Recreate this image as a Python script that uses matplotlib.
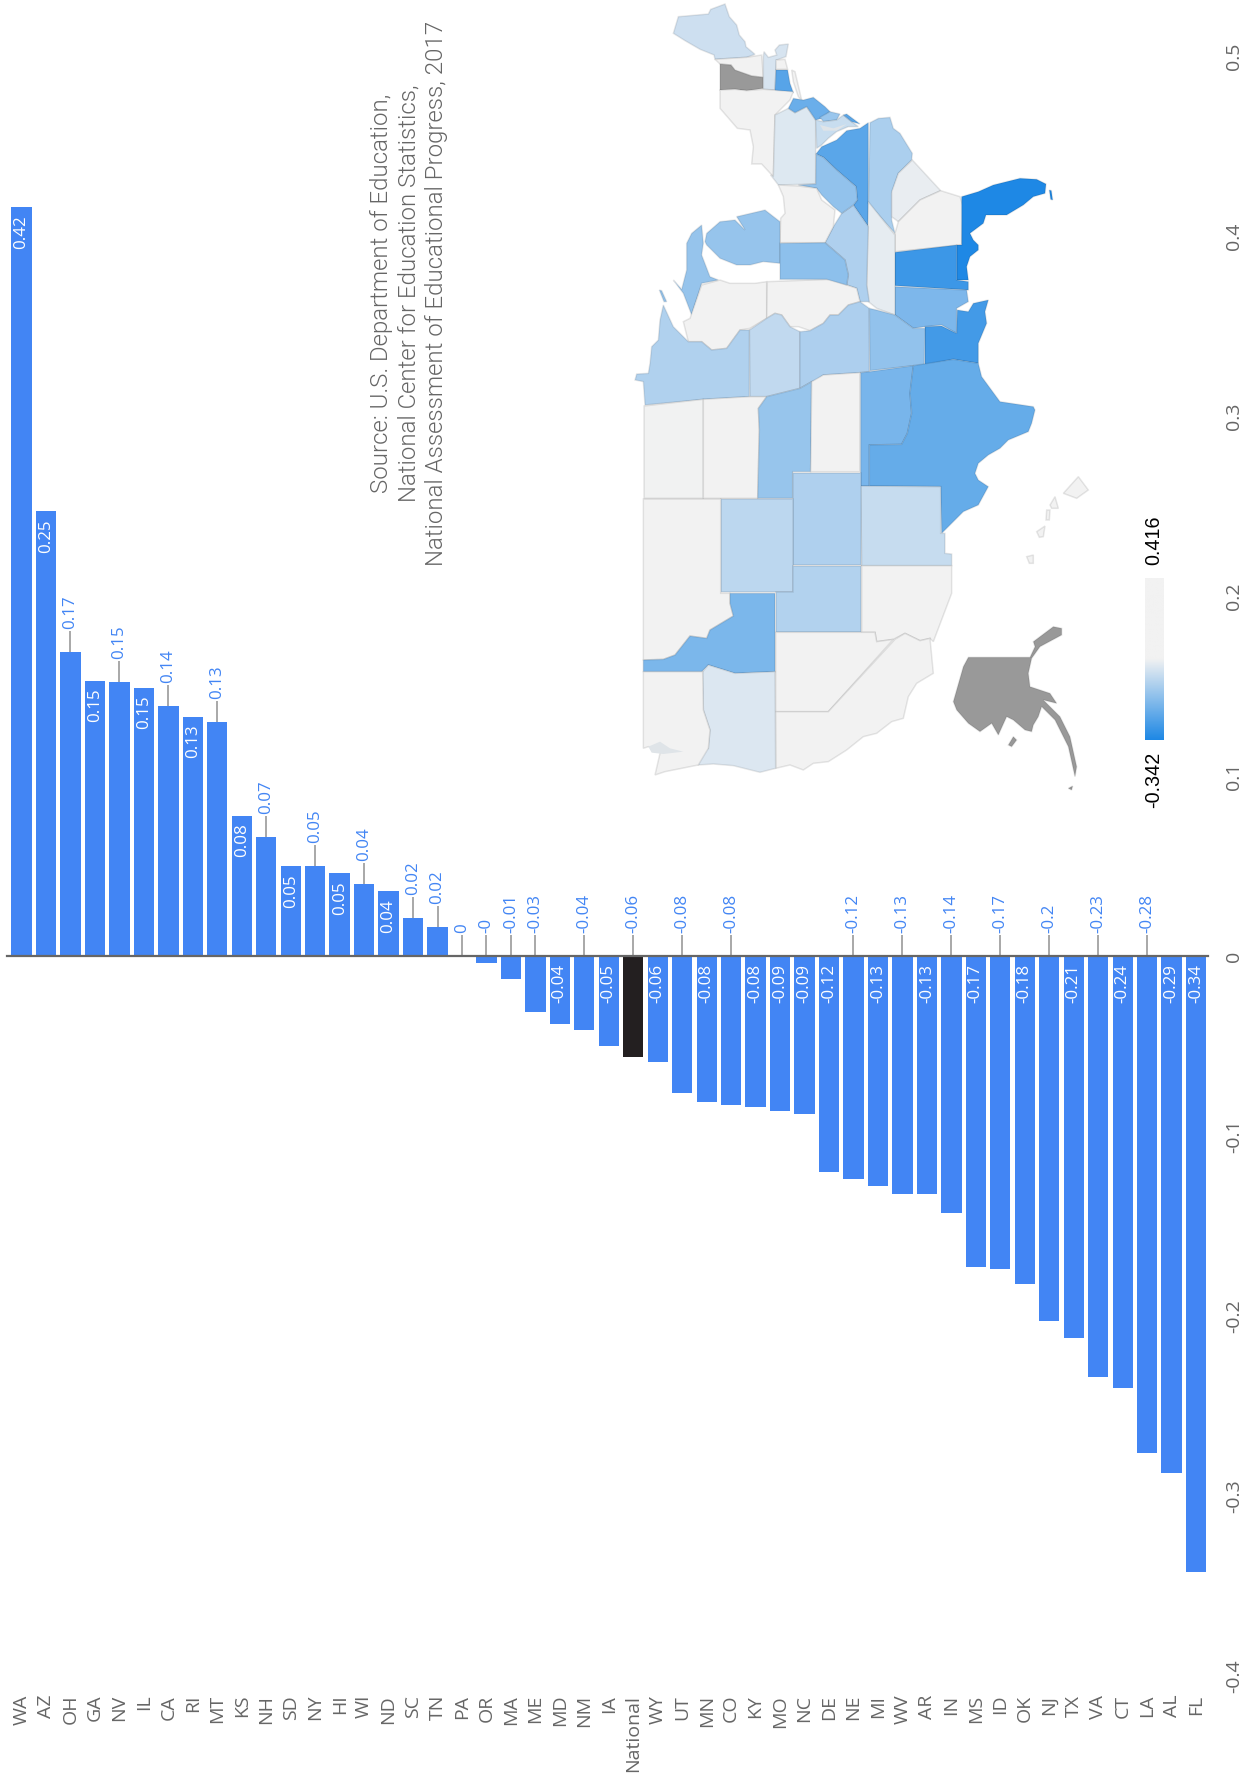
import numpy as np
import matplotlib
matplotlib.use("Agg")
import matplotlib.pyplot as plt
from matplotlib.colors import LinearSegmentedColormap, Normalize
from matplotlib.patches import Polygon

W, H = 1246, 1778

categorias = ["WA", "AZ", "OH", "GA", "NV", "IL", "CA", "RI", "MT", "KS", "NH", "SD", "NY", "HI", "WI", "ND", "SC",
              "TN", "PA", "OR", "MA", "ME", "MD", "NM", "IA", "National", "WY", "UT", "MN", "CO", "KY", "MO", "NC",
              "DE", "NE", "MI", "WV", "AR", "IN", "MS", "ID", "OK", "NJ", "TX", "VA", "CT", "LA", "AL", "FL"]
valores = [0.416, 0.247, 0.169, 0.153, 0.152, 0.149, 0.139, 0.133, 0.130, 0.078, 0.066, 0.050, 0.050, 0.046, 0.040,
           0.036, 0.021, 0.016, 0.0, -0.004, -0.013, -0.031, -0.038, -0.041, -0.050, -0.056, -0.059, -0.076,
           -0.081, -0.083, -0.084, -0.086, -0.088, -0.120, -0.124, -0.128, -0.132, -0.132, -0.143, -0.173, -0.174,
           -0.182, -0.203, -0.212, -0.234, -0.240, -0.276, -0.287, -0.342]
# etiquetas que van fuera de la barra, con su linea guia
fuera = ["OH", "NV", "CA", "MT", "NH", "NY", "WI", "SC", "TN", "PA", "OR", "MA", "ME", "NM", "National", "UT", "CO",
         "NE", "WV", "IN", "ID", "NJ", "VA", "LA"]
ticks_valor = [-0.4, -0.3, -0.2, -0.1, 0, 0.1, 0.2, 0.3, 0.4, 0.5]
ticks_texto = ["-0.4", "-0.3", "-0.2", "-0.1", "0", "0.1", "0.2", "0.3", "0.4", "0.5"]

azul = "#4285f4"
negro = "#231f20"
gris = "#666666"
guia = "#999999"

valor_min, valor_max = -0.342, 0.416

# contornos aproximados de los estados, en la misma orientacion girada del original
formas = {
    "ME": [[(160,100),(175,50),(265,42),(272,28),(315,12),(328,50),(350,75),(358,105),(375,125),(378,140),(405,163),
            (380,172),(285,178),(282,165),(240,148),(195,122)]],
    "NH": [[(285,178),(380,172),(425,165),(430,232),(395,228),(345,212),(333,195),(300,192)]],
    "VT": [[(300,192),(333,195),(345,210),(395,228),(430,232),(430,265),(380,272),(345,268),(300,270)]],
    "MA": [[(430,170),(432,155),(445,172),(470,165),(465,150),(478,135),(505,132),(498,170),(470,180),(468,210),
            (465,270),(430,268)]],
    "RI": [[(468,180),(495,178),(503,208),(468,208)]],
    "CT": [[(468,210),(503,210),(510,250),(520,278),(465,272)]],
    "NY": [[(300,270),(345,268),(380,272),(430,268),(520,275),(510,300),(465,345),(460,530),(425,492),(395,492),
            (400,440),(390,390),(352,385),(300,325)],
           [(515,210),(525,215),(545,300),(535,290),(520,245)]],
    "PA": [[(465,345),(505,325),(525,338),(560,320),(587,360),(587,552),(475,555),(452,525),(460,530)]],
    "NJ": [[(505,325),(520,295),(550,300),(580,292),(615,320),(630,335),(605,355),(587,360),(560,320),(525,338)]],
    "DE": [[(600,352),(630,335),(660,342),(650,360),(610,365)]],
    "MD": [[(587,360),(610,365),(650,360),(670,345),(695,365),(715,380),(685,380),(650,395),(625,415),(605,435),
            (590,445)]],
    "VA": [[(745,368),(745,680),(700,615),(712,600),(708,560),(650,510),(610,472),(588,462),(605,440),(650,420),
            (680,392),(720,385)],
           [(670,345),(680,342),(720,372),(695,365)]],
    "NC": [[(750,368),(775,355),(810,352),(820,385),(840,400),(877,460),(875,480),(835,520),(815,580),(815,660),
            (825,700),(745,610)]],
    "SC": [[(877,480),(962,572),(900,600),(835,665),(815,650),(815,575),(835,520)]],
    "GA": [[(825,700),(835,665),(900,600),(962,572),(1020,590),(1030,620),(1025,735),(825,755)]],
    "FL": [[(1025,590),(1075,575),(1120,555),(1200,535),(1250,538),(1278,552),(1275,580),(1240,590),(1210,615),
            (1160,645),(1098,645),(1090,670),(1050,700),(1060,720),(1075,735),(1075,750),(1050,770),(1040,800),
            (1045,840),(1010,840),(1010,735),(1025,735)],
           [(1288,570),(1294,572),(1298,600),(1292,598)]],
    "AL": [[(825,757),(1010,735),(1010,840),(1045,845),(1045,870),(825,857)]],
    "MS": [[(825,860),(1040,870),(1045,905),(1010,925),(1010,1000),(965,975),(915,980),(880,985),(825,945)]],
    "LA": [[(915,980),(965,978),(1010,1000),(1012,930),(1045,935),(1060,910),(1105,900),(1095,935),(1100,970),
            (1075,1030),(1075,1090),(1000,1078),(915,1095)]],
    "TN": [[(745,605),(825,705),(825,945),(770,925),(745,905),(740,855)]],
    "KY": [[(615,728),(640,680),(665,640),(700,615),(745,680),(740,855),(748,905),(720,905),(710,865),(680,855),
            (685,825),(675,780)]],
    "WV": [[(535,555),(587,552),(588,462),(610,472),(650,510),(708,560),(712,600),(700,615),(665,640),(640,620),
            (605,585),(590,565)]],
    "OH": [[(475,555),(535,558),(590,565),(605,600),(645,630),(640,680),(615,728),(480,728),(482,655),(495,640),
            (490,590)]],
    "MI": [[(255,725),(260,700),(300,665),(345,660),(375,690),(350,650),(435,630),(480,665),(480,790),(430,785),
            (390,795),(350,795),(300,775),(260,735)],
           [(200,730),(215,700),(245,675),(250,730),(245,765),(270,830),(295,840),(245,850),(215,945),(190,880),
            (160,840),(185,868),(200,810)],
           [(118,870),(125,872),(140,905),(132,905)]],
    "WI": [[(210,955),(245,855),(300,840),(330,850),(405,850),(440,845),(440,955),(390,985),(360,990),(320,1045),
            (275,1050),(245,1025),(205,1025),(190,965)]],
    "IL": [[(442,845),(630,838),(710,865),(720,905),(685,915),(655,945),(630,945),(610,970),(570,992),(535,980),
            (510,980),(485,945),(465,940),(440,955)]],
    "IN": [[(480,730),(615,728),(675,780),(685,825),(680,855),(620,838),(480,838)]],
    "IA": [[(388,990),(440,955),(465,940),(485,945),(510,980),(540,995),(540,1165),(440,1190),(390,1190)]],
    "MN": [[(130,915),(160,980),(205,1025),(245,1025),(275,1050),(320,1045),(360,990),(388,990),(388,1190),
            (250,1198),(75,1215),(70,1145),(45,1140),(50,1122),(85,1120),(90,1090),(95,1040),(115,1020),(120,960)]],
    "MO": [[(540,995),(570,992),(610,970),(630,945),(655,945),(685,915),(720,905),(748,925),(748,1115),(720,1118),
            (610,1125),(590,1140),(575,1145),(540,1165)]],
    "AR": [[(748,925),(770,930),(825,945),(880,985),(915,985),(913,1095),(880,1097),(750,1112)]],
    "ND": [[(72,1218),(250,1198),(250,1495),(72,1495)]],
    "SD": [[(250,1198),(390,1190),(440,1190),(415,1225),(418,1290),(413,1495),(250,1495)]],
    "NE": [[(440,1190),(540,1165),(575,1145),(572,1415),(518,1415),(518,1495),(413,1495),(418,1290),(415,1225)]],
    "KS": [[(575,1145),(610,1125),(720,1118),(720,1415),(572,1415)]],
    "OK": [[(722,1118),(748,1115),(880,1097),(870,1180),(875,1240),(862,1300),(845,1333),(748,1335),(748,1458),
            (722,1458)]],
    "TX": [[(748,1335),(845,1333),(862,1300),(875,1240),(870,1180),(880,1097),(1000,1078),(1075,1090),(1085,1130),
            (1140,1205),(1240,1220),(1245,1230),(1235,1270),(1225,1295),(1165,1320),(1140,1345),(1105,1365),
            (1075,1390),(1065,1420),(1075,1440),(1105,1460),(1075,1515),(1030,1535),(965,1600),(962,1460),(748,1458)]],
    "NM": [[(722,1458),(962,1460),(962,1600),(975,1600),(975,1660),(995,1662),(995,1697),(725,1697)]],
    "CO": [[(520,1418),(722,1418),(722,1695),(520,1695)]],
    "WY": [[(302,1497),(520,1497),(520,1777),(302,1777)]],
    "UT": [[(467,1777),(520,1777),(520,1697),(724,1697),(724,1897),(467,1897)]],
    "AZ": [[(725,1697),(995,1697),(995,1780),(940,1925),(930,1915),(900,1922),(855,1900),(820,1918),(770,1925),
            (765,1897),(725,1897)]],
    "NV": [[(467,1897),(765,1897),(770,1925),(820,1918),(625,2135),(467,2135)]],
    "CA": [[(467,2135),(625,2135),(825,1918),(855,1900),(900,1922),(930,1915),(940,2020),(890,2050),(865,2090),
            (850,2155),(815,2165),(770,2200),(730,2210),(680,2250),(625,2285),(580,2290),(550,2310),(510,2295),
            (467,2305)]],
    "MT": [[(70,1497),(302,1497),(302,1780),(330,1780),(330,1810),(340,1848),(270,1890),(260,1915),(210,1908),
            (165,1965),(130,1978),(70,1980)]],
    "ID": [[(70,1980),(130,1978),(165,1965),(210,1908),(260,1915),(270,1890),(340,1848),(330,1810),(330,1780),
            (465,1780),(465,2015),(345,2020),(265,1995),(245,2015),(70,2015)]],
    "OR": [[(248,2015),(265,1995),(345,2020),(465,2015),(467,2305),(420,2317),(340,2297),(280,2292),(235,2295),
            (235,2260),(265,2245),(270,2190),(250,2130)]],
    "WA": [[(70,2015),(248,2015),(250,2130),(270,2190),(265,2245),(235,2295),(135,2315),(105,2325),(120,2260),
            (118,2245),(85,2240),(70,2245)]],
    "HI": [[(1330,1480),(1375,1430),(1405,1470),(1370,1495)],
           [(1290,1515),(1305,1490),(1315,1525),(1295,1525)],
           [(1280,1530),(1290,1530),(1288,1560),(1278,1560)],
           [(1250,1595),(1275,1578),(1270,1610),(1258,1612)],
           [(1220,1670),(1240,1665),(1240,1690),(1228,1690)]],
    "AK": [[(1045,1972),(1230,1972),(1245,1940),(1240,1925),(1300,1880),(1325,1885),(1325,1905),(1260,1940),
            (1235,1975),(1225,2020),(1230,2060),(1290,2080),(1310,2110),(1270,2100),(1320,2150),(1350,2210),
            (1370,2300),(1365,2330),(1345,2240),(1305,2160),(1265,2120),(1255,2150),(1240,2175),(1235,2195),
            (1215,2190),(1180,2160),(1160,2150),(1135,2205),(1115,2170),(1080,2195),(1045,2170),(1010,2130),
            (1000,2105),(1030,2000)],
           [(1165,2235),(1180,2210),(1190,2220),(1175,2240)],
           [(1345,2365),(1358,2358),(1355,2370)]],
}
sin_dato = ["VT", "AK"]
# bahia de Chesapeake y Puget Sound, solo la linea clara del contorno
bahias = [[(600,375),(640,385),(680,372),(650,392),(610,392)],
          [(85,2240),(120,2225),(150,2245),(190,2255),(130,2262),(95,2258)]]

plt.rcParams["font.family"] = ["Open Sans", "DejaVu Sans"]

fig = plt.figure(figsize=(W / 100, H / 100), dpi=100)


def caja(izq, arriba, der, abajo):
    return [izq / W, 1 - abajo / H, (der - izq) / W, (abajo - arriba) / H]


# barras
ax = fig.add_axes(caja(9.3, 56, 1208.3, 1676))
x = np.arange(len(categorias))
colores = [negro if c == "National" else azul for c in categorias]
ax.bar(x, valores, width=0.83, color=colores, linewidth=0)
ax.plot([-0.59, len(categorias) - 0.5], [0, 0], color=gris, lw=1.6, zorder=3, clip_on=False)
ax.set_xlim(-0.5, len(categorias) - 0.5)
ax.set_ylim(-0.4, 0.5)
for lado in ax.spines.values():
    lado.set_visible(False)
ax.set_xticks(x)
ax.set_xticklabels(categorias, rotation=90, va="top", ha="center", color=gris, fontsize=14)
ax.tick_params(axis="x", length=0, pad=13.5)
ax.yaxis.tick_right()
ax.set_yticks(ticks_valor)
ax.set_yticklabels(ticks_texto, rotation=90, va="center", color=gris, fontsize=14)
ax.tick_params(axis="y", length=0, pad=12)

largo_guia = 21 * 0.9 / 1620
for i, (c, v) in enumerate(zip(categorias, valores)):
    etiqueta = f"{v:.2f}".rstrip("0").rstrip(".")
    base = max(v, 0)
    if c in fuera:
        ax.plot([i, i], [base, base + largo_guia], color=guia, lw=1.2, zorder=2, solid_capstyle="butt")
        ax.annotate(etiqueta, (i, base + largo_guia), xytext=(0, 2), textcoords="offset pixels", rotation=90,
                    ha="center", va="bottom", color=azul, fontsize=12.2)
    else:
        ax.annotate(etiqueta, (i, base), xytext=(0, -8), textcoords="offset pixels", rotation=90,
                    ha="center", va="top", color="white", fontsize=12.2)

# mapa
mapa_cm = LinearSegmentedColormap.from_list("mapa", ["#1e88e5", "#f2f2f2", "#f2f2f2"])
norma = Normalize(valor_min, valor_max)
valor_estado = dict(zip(categorias, valores))

mapa = fig.add_axes(caja(620, 0, 1120, 800))
mapa.set_xlim(0, 1500)
mapa.set_ylim(2400, 0)
mapa.axis("off")
for estado, partes in formas.items():
    relleno = "#999999" if estado in sin_dato else mapa_cm(norma(valor_estado[estado]))
    for parte in partes:
        mapa.add_patch(Polygon(parte, closed=True, facecolor=relleno, edgecolor=(0, 0, 0, 0.09), lw=1.1))
for parte in bahias:
    mapa.add_patch(Polygon(parte, closed=True, facecolor="#dfe4e8", edgecolor="none"))

# leyenda del mapa
leyenda = fig.add_axes(caja(1145, 578, 1164, 740))
leyenda.imshow(np.linspace(valor_max, valor_min, 256).reshape(-1, 1), cmap=mapa_cm, norm=norma, aspect="auto")
leyenda.axis("off")
fig.text(1153.5 / W, 1 - 565 / H, "0.416", rotation=90, ha="center", va="bottom", color="black", fontsize=14.2,
         family="Liberation Sans")
fig.text(1153.5 / W, 1 - 752 / H, "-0.342", rotation=90, ha="center", va="top", color="black", fontsize=14.2,
         family="Liberation Sans")

# fuente
fig.text(409 / W, 1 - 293 / H,
         "Source: U.S. Department of Education,\nNational Center for Education Statistics,\n"
         "National Assessment of Educational Progress, 2017",
         rotation=90, ha="center", va="center", multialignment="center", color=gris, fontsize=17.3, family="Roboto",
         fontweight=300, linespacing=1.25)

fig.savefig("out.png", dpi=100, facecolor="white")
